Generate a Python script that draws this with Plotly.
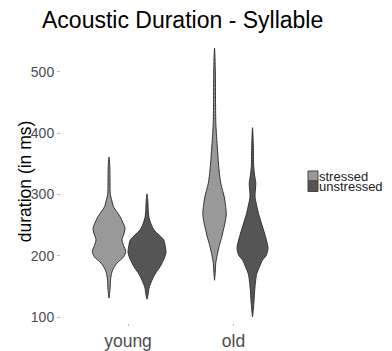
import plotly.graph_objects as go

# ---- data ----
age_groups = ["young", "old"]
stress_levels = ["stressed", "unstressed"]
y_ticks = [100, 200, 300, 400, 500]

# density profiles: duration (ms) and relative density (half-width units)
young_stressed_ms = [361, 345, 320, 300, 292, 280, 264, 252, 245, 236, 226, 217, 207, 198, 188, 178, 171, 160, 145, 131]
young_stressed_dens = [0, 0.8, 1.0, 1.3, 2.5, 4.5, 11, 14.5, 16, 15, 13, 14.5, 16.7, 14.5, 8, 4, 2.5, 1.5, 1, 0]

young_unstressed_ms = [301, 290, 275, 262, 252, 242, 234, 226, 215, 205, 195, 182, 170, 160, 150, 147, 138, 129]
young_unstressed_dens = [0, 0.8, 1.2, 2, 4, 7, 12, 16.7, 18.3, 19, 17, 13, 8, 5, 2.5, 2, 1.2, 0]

old_stressed_ms = [539, 500, 450, 416, 395, 372, 340, 318, 296, 282, 269, 258, 250, 240, 231, 218, 204, 188, 175, 160]
old_stressed_dens = [0, 0.8, 1.0, 1.3, 2, 3, 4.5, 6.3, 9.7, 11, 11.7, 11, 10, 8.5, 7.3, 5, 3, 1.2, 0.8, 0]

old_unstressed_ms = [409, 380, 345, 330, 318, 307, 296, 283, 269, 255, 242, 228, 212, 200, 193, 182, 171, 155, 139, 120, 100]
old_unstressed_dens = [0, 0.8, 1.2, 2.2, 3.3, 2.8, 2.5, 4, 6, 8.5, 11, 13.5, 15.5, 13.5, 10, 7, 4.3, 2.8, 2, 1.2, 0]

# ---- styling ----
FILL = {"stressed": "#999999", "unstressed": "#555555"}
OUTLINE = "#333333"
FONT = "Liberation Sans, Arial, sans-serif"

OFF = 8                      # page body margin of the html page
W, H = 392 - OFF, 351 - OFF
L, R, T, B = 61 - OFF, 96, 40 - OFF, 28
X_RANGE = [0.365, 2.592]
Y_RANGE = [90.2, 552.2]
PW, PH = W - L - R, H - T - B
px_per_unit = PW / (X_RANGE[1] - X_RANGE[0])
dodge = 0.18
dens_scale = 1.0 / px_per_unit

violins = {
    ("young", "stressed"): (young_stressed_ms, young_stressed_dens),
    ("young", "unstressed"): (young_unstressed_ms, young_unstressed_dens),
    ("old", "stressed"): (old_stressed_ms, old_stressed_dens),
    ("old", "unstressed"): (old_unstressed_ms, old_unstressed_dens),
}

fig = go.Figure()
for (age, stress), (ms, dens) in violins.items():
    center = age_groups.index(age) + 1 + (-dodge if stress == "stressed" else dodge)
    xs = [center + d * dens_scale for d in dens] + [center - d * dens_scale for d in reversed(dens)]
    ys = list(ms) + list(reversed(ms))
    fig.add_trace(go.Scatter(
        x=xs, y=ys, mode="lines", fill="toself",
        fillcolor=FILL[stress],
        line=dict(color=OUTLINE, width=1, shape="spline", smoothing=0.8),
        name=stress, showlegend=False, hoverinfo="skip",
    ))

# positions given in page pixels -> paper coordinates
def px_x(p):
    return (p - OFF - L) / PW

def px_y(p):
    return (H - B - (p - OFF)) / PH

# manual legend (ggplot-style square keys)
key_x0, key_x1 = 308, 318
key_rows = [(171, 181), (181, 191.5)]
for stress, (y0, y1) in zip(stress_levels, key_rows):
    fig.add_shape(type="rect", xref="paper", yref="paper",
                  x0=px_x(key_x0), x1=px_x(key_x1), y0=px_y(y1), y1=px_y(y0),
                  fillcolor=FILL[stress], line=dict(color="#444444", width=1))
    fig.add_annotation(xref="paper", yref="paper", x=px_x(316.5), y=px_y((y0 + y1) / 2),
                       xanchor="left", yanchor="middle", showarrow=False,
                       text=stress, font=dict(family=FONT, size=13, color="#222222"))

# y-axis title
fig.add_annotation(xref="paper", yref="paper", x=px_x(24.5), y=px_y(181.7),
                   xanchor="center", yanchor="middle", showarrow=False, textangle=-90,
                   text="duration (in ms)", font=dict(family=FONT, size=17.5, color="#000000"))

fig.update_layout(
    width=W, height=H,
    margin=dict(l=L, r=R, t=T, b=B, autoexpand=False),
    paper_bgcolor="white", plot_bgcolor="white",
    title=dict(text="Acoustic Duration - Syllable", x=(42 - OFF) / W, xanchor="left",
               xref="container", y=1 - (20 - OFF) / H, yanchor="middle",
               font=dict(family=FONT, size=23, color="#000000")),
    xaxis=dict(range=X_RANGE, tickvals=[1, 2], ticktext=age_groups, automargin=False,
               showgrid=False, zeroline=False, showline=False,
               ticks="outside", ticklen=2, tickcolor="#bbbbbb",
               tickfont=dict(family=FONT, size=17.5, color="#4d4d4d")),
    yaxis=dict(range=Y_RANGE, tickvals=y_ticks, automargin=False,
               showgrid=False, zeroline=False, showline=False,
               ticks="outside", ticklen=3, tickcolor="#bbbbbb",
               tickfont=dict(family=FONT, size=14, color="#4d4d4d")),
)

fig.write_html("out.html")
